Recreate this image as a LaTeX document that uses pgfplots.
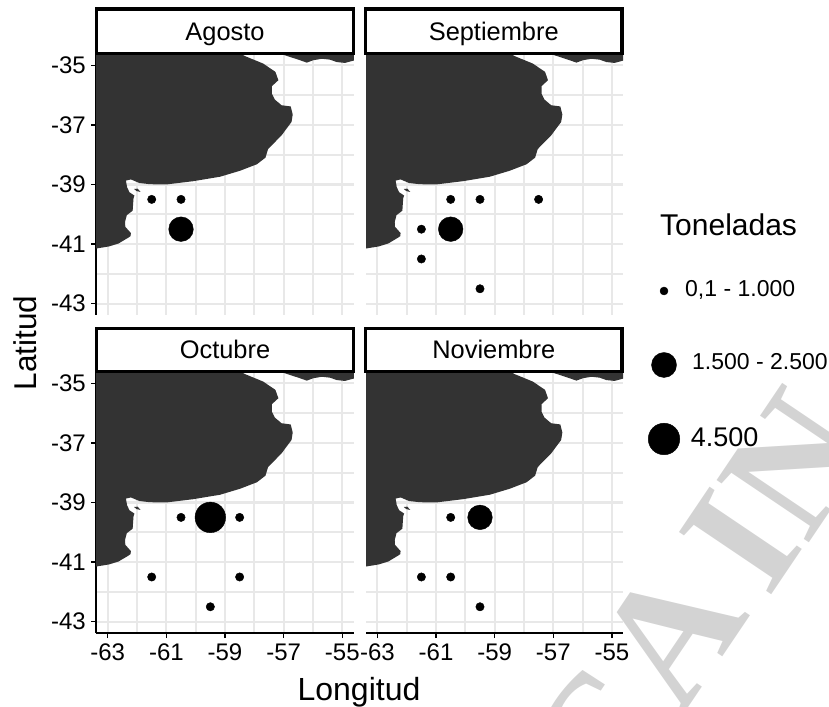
\documentclass[border=0pt]{standalone}
\usepackage{fontspec}
\setmainfont{Liberation Sans}
\newfontfamily\wmfont{Liberation Serif}
\usepackage{pgfplots}
\usepackage{pgfplotstable}
\pgfplotsset{compat=1.18}

\definecolor{land}{HTML}{333333}
\definecolor{gridc}{HTML}{E8E8E8}
\definecolor{wm}{HTML}{D3D3D3}

\newcommand{\sz}[1]{\fontsize{#1}{#1}\selectfont}

% mainland coast
\pgfplotstableread{
lon lat
-65.00 -41.15
-63.40 -41.15
-62.96 -41.08
-62.63 -40.98
-62.29 -40.78
-62.22 -40.73
-62.21 -40.63
-62.40 -40.42
-62.41 -40.26
-62.35 -40.03
-62.15 -39.88
-62.12 -39.46
-62.09 -39.37
-62.26 -39.26
-62.34 -39.09
-62.38 -38.87
-62.21 -38.83
-61.92 -38.95
-61.56 -38.99
-61.01 -39.00
-60.09 -38.89
-59.17 -38.74
-58.49 -38.54
-57.91 -38.32
-57.62 -38.10
-57.53 -37.81
-57.07 -37.35
-56.73 -36.90
-56.69 -36.65
-56.76 -36.38
-57.07 -36.34
-57.30 -36.15
-57.40 -35.95
-57.40 -35.70
-57.18 -35.50
-57.28 -35.22
-57.70 -34.94
-58.32 -34.69
-58.66 -34.50
-58.80 -34.30
-65.00 -34.30
}\coast

% Uruguay, top right corner
\pgfplotstableread{
lon lat
-57.00 -34.65
-56.84 -34.70
-56.44 -34.83
-56.21 -34.91
-55.99 -34.83
-55.70 -34.78
-55.42 -34.81
-55.19 -34.89
-54.91 -34.92
-54.57 -34.83
-54.30 -34.80
-54.30 -34.20
-57.00 -34.20
}\uruguay

% islet in the bay
\pgfplotstableread{
lon lat
-62.10 -39.15
-61.98 -39.14
-61.88 -39.25
-62.02 -39.22
}\islet

\pgfplotsset{
  panel/.style={
    scale only axis, width=#1, height=261pt,
    ymin=-43.38, ymax=-34.62,
    xtick={-63,-61,-59,-57,-55},
    xticklabels={-63,-61,-59,-57,-55},
    ytick={-43,-41,-39,-37,-35},
    yticklabels={-43,-41,-39,-37,-35},
    minor x tick num=1, minor y tick num=1,
    grid=both,
    major grid style={gridc, line width=2.1pt},
    minor grid style={gridc, line width=2.1pt},
    axis x line*=bottom, axis y line*=left,
    x axis line style={-, line width=1.8pt},
    y axis line style={-, line width=1.8pt},
    tick align=outside, major tick length=5pt, minor tick length=0pt,
    major tick style={black, line width=1.5pt},
    tick label style={font=\sz{24}, inner sep=0pt},
    xticklabel style={yshift=-6pt},
    yticklabel style={xshift=-5pt},
  },
  noxaxis/.style={x axis line style={draw=none}, xtick style={draw=none}, xticklabels={}},
  noyaxis/.style={y axis line style={draw=none}, ytick style={draw=none}, yticklabels={}},
  small/.style={only marks, mark=*, black, mark size=4.2pt},
  big/.style={only marks, mark=*, black, mark size=12.3pt},
  huge/.style={only marks, mark=*, black, mark size=15.3pt},
  left col/.style={panel=258pt, xmin=-63.40, xmax=-54.60},
  right col/.style={panel=257pt, xmin=-63.39, xmax=-54.62},
}

\newcommand{\map}{%
  \addplot[fill=land, draw=none] table {\coast};
  \addplot[fill=land, draw=none] table {\uruguay};
  \addplot[fill=land, draw=none] table {\islet};
}
\newcommand{\strip}[5]{% x0 x1 top bottom title; title baseline set 12.5 above the strip bottom
  \draw[line width=3.5pt, fill=white] (#1pt,{(706-#3)*1pt}) rectangle (#2pt,{(706-#4)*1pt});
  \node[anchor=base, inner sep=0pt, font=\sz{25.4}] at ({(#1+#2)/2*1pt},{(706-#4+12.5)*1pt}) {#5};
}

\begin{document}
\begin{tikzpicture}
\path[use as bounding box] (0,0) rectangle (829pt,706pt);

% watermark behind everything
\foreach \px/\py/\ch in {646/769/C, 717/666/A, 787/572/I, 842/495/N}
  \node[rotate=56, anchor=base, inner sep=0pt, text=wm, font=\wmfont\bfseries\sz{170}]
    at ({\px*1pt},{(706-\py)*1pt}) {\ch};

\begin{axis}[left col, noxaxis, at={(96pt,391pt)}]
  \map
  \addplot[small] coordinates {(-61.5,-39.5) (-60.5,-39.5)};
  \addplot[big] coordinates {(-60.5,-40.5)};
\end{axis}

\begin{axis}[right col, noxaxis, noyaxis, at={(366pt,391pt)}]
  \map
  \addplot[small] coordinates {(-60.5,-39.5) (-59.5,-39.5) (-57.5,-39.5) (-61.5,-40.5) (-61.5,-41.5) (-59.5,-42.5)};
  \addplot[big] coordinates {(-60.5,-40.5)};
\end{axis}

\begin{axis}[left col, at={(96pt,73pt)}]
  \map
  \addplot[small] coordinates {(-60.5,-39.5) (-58.5,-39.5) (-61.5,-41.5) (-58.5,-41.5) (-59.5,-42.5)};
  \addplot[huge] coordinates {(-59.5,-39.5)};
\end{axis}

\begin{axis}[right col, noyaxis, at={(366pt,73pt)}]
  \map
  \addplot[small] coordinates {(-60.5,-39.5) (-61.5,-41.5) (-60.5,-41.5) (-59.5,-42.5)};
  \addplot[big] coordinates {(-59.5,-39.5)};
\end{axis}

\strip{96.5}{353.5}{9}{53.5}{Agosto}
\strip{365.5}{622}{9}{53.5}{Septiembre}
\strip{96.5}{353.5}{328.5}{371.5}{Octubre}
\strip{365.5}{622}{328.5}{371.5}{Noviembre}

\node[anchor=base, inner sep=0pt, font=\sz{32}] at (359pt,5.5pt) {Longitud};
\node[anchor=base, rotate=90, inner sep=0pt, font=\sz{31.5}] at (36pt,363pt) {Latitud};

% size legend, in picture pixels
\begin{axis}[hide axis, scale only axis, width=829pt, height=706pt, at={(0pt,0pt)},
    xmin=0, xmax=829, ymin=0, ymax=706, clip=false]
  \addplot[only marks, mark=*, black, mark size=4pt] coordinates {(664,415)};
  \addplot[only marks, mark=*, black, mark size=12.5pt] coordinates {(664,341)};
  \addplot[only marks, mark=*, black, mark size=15.8pt] coordinates {(664,267)};
\end{axis}
\node[anchor=base west, inner sep=0pt, font=\sz{30}] at (660pt,470pt) {Toneladas};
\node[anchor=base west, inner sep=0pt, font=\sz{23}] at (685pt,409pt) {0,1 - 1.000};
\node[anchor=base west, inner sep=0pt, font=\sz{23}] at (692pt,336pt) {1.500 - 2.500};
\node[anchor=base west, inner sep=0pt, font=\sz{27}] at (690.7pt,259pt) {4.500};
\end{tikzpicture}
\end{document}
